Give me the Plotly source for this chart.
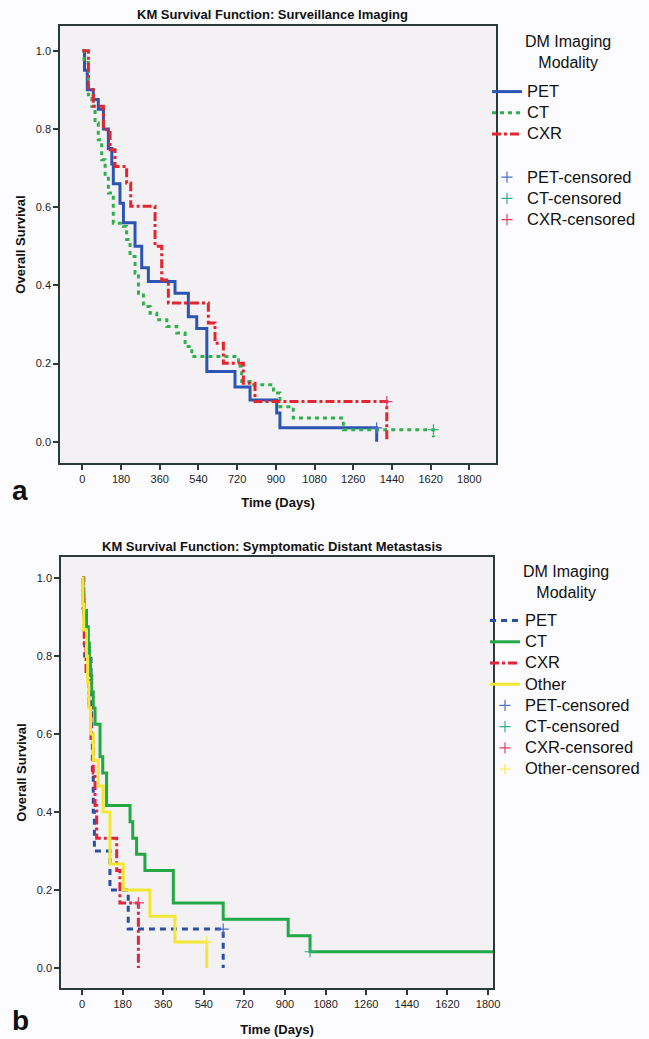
import plotly.graph_objects as go

# ---------------- data (panel a: Surveillance Imaging) ----------------
a_pet_t = [0, 10, 23, 51, 74, 98, 121, 137, 144, 175, 191, 245, 276, 307, 431, 493, 532, 579, 710, 780, 904, 919, 1369]
a_pet_s = [1.0, 0.95, 0.90, 0.875, 0.85, 0.80, 0.75, 0.71, 0.66, 0.61, 0.56, 0.50, 0.445, 0.41, 0.38, 0.32, 0.29, 0.18, 0.14, 0.107, 0.074, 0.036, 0.0]

a_ct_t = [0, 8, 28, 44, 59, 74, 90, 106, 121, 144, 191, 206, 222, 245, 261, 284, 315, 346, 393, 439, 478, 509, 726, 741, 780, 889, 919, 981, 1214, 1633]
a_ct_s = [1.0, 0.97, 0.887, 0.858, 0.815, 0.772, 0.721, 0.679, 0.636, 0.559, 0.551, 0.517, 0.474, 0.431, 0.380, 0.346, 0.329, 0.312, 0.295, 0.278, 0.244, 0.218, 0.193, 0.154, 0.146, 0.125, 0.090, 0.061, 0.031, 0.012]

a_cxr_t = [0, 28, 51, 98, 129, 152, 206, 225, 338, 369, 400, 586, 617, 656, 749, 803, 1416]
a_cxr_s = [1.0, 0.90, 0.858, 0.798, 0.747, 0.704, 0.662, 0.602, 0.50, 0.414, 0.355, 0.304, 0.252, 0.201, 0.150, 0.103, 0.0]

a_pet_cens_t, a_pet_cens_s = [1369], [0.036]
a_ct_cens_t, a_ct_cens_s = [1633], [0.031]
a_cxr_cens_t, a_cxr_cens_s = [1416], [0.103]

# ---------------- data (panel b: Symptomatic Distant Metastasis) ----------------
b_pet_t = [0, 8, 12, 40, 43, 46, 50, 55, 124, 205, 626]
b_pet_s = [1.0, 0.9, 0.8, 0.7, 0.6, 0.5, 0.4, 0.3, 0.2, 0.1, 0.0]

b_ct_t = [0, 5, 9, 20, 28, 33, 38, 43, 50, 58, 80, 92, 109, 213, 225, 242, 279, 405, 626, 914, 1011, 1830]
b_ct_s = [1.0, 0.958, 0.917, 0.875, 0.833, 0.792, 0.75, 0.708, 0.667, 0.625, 0.542, 0.5, 0.417, 0.375, 0.333, 0.292, 0.25, 0.167, 0.125, 0.083, 0.042, 0.042]

b_cxr_t = [0, 5, 10, 18, 30, 40, 50, 58, 65, 154, 168, 250]
b_cxr_s = [1.0, 0.917, 0.833, 0.75, 0.667, 0.583, 0.5, 0.417, 0.333, 0.25, 0.167, 0.0]

b_oth_t = [0, 4, 8, 20, 25, 30, 38, 50, 72, 94, 124, 183, 301, 412, 553]
b_oth_s = [1.0, 0.933, 0.867, 0.8, 0.733, 0.667, 0.6, 0.533, 0.467, 0.4, 0.267, 0.2, 0.133, 0.067, 0.0]

b_pet_cens_t, b_pet_cens_s = [626], [0.1]
b_ct_cens_t, b_ct_cens_s = [1011], [0.042]
b_cxr_cens_t, b_cxr_cens_s = [250], [0.167]
b_oth_cens_t, b_oth_cens_s = [553], [0.067]

x_ticks = [0, 180, 360, 540, 720, 900, 1080, 1260, 1440, 1620, 1800]
y_ticks = [0.0, 0.2, 0.4, 0.6, 0.8, 1.0]

W, H = 649, 1039
FONT = "Liberation Sans, Arial, sans-serif"
NARROW = "Liberation Sans Narrow, Arial Narrow, Liberation Sans, sans-serif"

fig = go.Figure()

def legname(s):
    return '<span style="font-size:16.5px">' + s + '</span>'

def line(t, s, name, color, dash, xa, ya, legend, group, width=3):
    fig.add_trace(go.Scatter(x=t, y=s, mode="lines", name=legname(name),
                             line=dict(color=color, width=width, dash=dash, shape="hv"),
                             xaxis=xa, yaxis=ya, legend=legend, legendgroup=group))

def cens(t, s, name, color, xa, ya, legend, group):
    fig.add_trace(go.Scatter(x=t, y=s, mode="markers", name=legname(name),
                             marker=dict(symbol="cross-thin-open", size=8, line=dict(color=color, width=1.2), color=color),
                             xaxis=xa, yaxis=ya, legend=legend, legendgroup=group))

# panel a
line(a_pet_t, a_pet_s, "PET", "#2c55b3", "solid", "x", "y", "legend", "g1")
line(a_ct_t, a_ct_s, "CT", "#2fb04c", "4px,4px", "x", "y", "legend", "g1")
line(a_cxr_t, a_cxr_s, "CXR", "#e3262e", "dashdot", "x", "y", "legend", "g1")
cens(a_pet_cens_t, a_pet_cens_s, "PET-censored", "#4a6fc8", "x", "y", "legend", "g2")
cens(a_ct_cens_t, a_ct_cens_s, "CT-censored", "#35b08a", "x", "y", "legend", "g2")
cens(a_cxr_cens_t, a_cxr_cens_s, "CXR-censored", "#ea3d64", "x", "y", "legend", "g2")

# panel b
line(b_pet_t, b_pet_s, "PET", "#2b4ea6", "6px,5px", "x2", "y2", "legend2", "h1")
line(b_ct_t, b_ct_s, "CT", "#22a845", "solid", "x2", "y2", "legend2", "h1")
line(b_cxr_t, b_cxr_s, "CXR", "#e0263c", "dashdot", "x2", "y2", "legend2", "h1")
line(b_oth_t, b_oth_s, "Other", "#f2e733", "solid", "x2", "y2", "legend2", "h1")
cens(b_pet_cens_t, b_pet_cens_s, "PET-censored", "#4a6fc8", "x2", "y2", "legend2", "h1")
cens(b_ct_cens_t, b_ct_cens_s, "CT-censored", "#35b08a", "x2", "y2", "legend2", "h1")
cens(b_cxr_cens_t, b_cxr_cens_s, "CXR-censored", "#ea3d64", "x2", "y2", "legend2", "h1")
cens(b_oth_cens_t, b_oth_cens_s, "Other-censored", "#f5ea52", "x2", "y2", "legend2", "h1")

axis_common = dict(showgrid=False, zeroline=False, showline=True, mirror=True, linecolor="#2b3b3b", linewidth=1.5,
                   ticks="outside", ticklen=5, tickwidth=1.5, tickcolor="#2b3b3b", automargin=False,
                   tickfont=dict(family=NARROW, size=11, color="#222"))

def px2dom_x(a, b):
    return [a / W, b / W]

def px2dom_y(top, bottom):
    return [1 - bottom / H, 1 - top / H]

fig.update_layout(
    width=W, height=H, margin=dict(l=0, r=0, t=0, b=0, pad=0, autoexpand=False),
    paper_bgcolor="#fcfcfe", plot_bgcolor="#f3f1f4",
    font=dict(family=FONT, color="#111"),
    xaxis=dict(domain=px2dom_x(60, 496), range=[-104, 1924], tickvals=x_ticks, anchor="y",
               title=dict(text="<b>Time (Days)</b>", font=dict(size=13, family=FONT), standoff=14), **axis_common),
    yaxis=dict(domain=px2dom_y(26, 463), range=[-0.054, 1.063], tickvals=y_ticks, tickformat=".1f", anchor="x",
               title=dict(text="<b>Overall Survival</b>", font=dict(size=13, family=FONT), standoff=7), **axis_common),
    xaxis2=dict(domain=px2dom_x(61, 493), range=[-93, 1822], tickvals=x_ticks, anchor="y2",
                title=dict(text="<b>Time (Days)</b>", font=dict(size=13, family=FONT), standoff=16), **axis_common),
    yaxis2=dict(domain=px2dom_y(557, 988), range=[-0.051, 1.054], tickvals=y_ticks, tickformat=".1f", anchor="x2",
                title=dict(text="<b>Overall Survival</b>", font=dict(size=13, family=FONT), standoff=7), **axis_common),
    legend=dict(x=487 / W, y=1 - 76 / H, xanchor="left", yanchor="top", bgcolor="rgba(0,0,0,0)",
                font=dict(size=14, family=FONT, color="#111"), tracegroupgap=22, itemwidth=30),
    legend2=dict(x=485 / W, y=1 - 605 / H, xanchor="left", yanchor="top", bgcolor="rgba(0,0,0,0)",
                 font=dict(size=14, family=FONT, color="#111"), tracegroupgap=0, itemwidth=30),
    showlegend=True,
)

annos = [
    dict(text="<b>KM Survival Function: Surveillance Imaging</b>", x=272, y=15, size=13),
    dict(text="<b>KM Survival Function: Symptomatic Distant Metastasis</b>", x=272, y=546, size=13),
    dict(text="<b>a</b>", x=20, y=490, size=28),
    dict(text="<b>b</b>", x=20, y=1020, size=28),
    dict(text="DM Imaging<br>Modality", x=568, y=52, size=16),
    dict(text="DM Imaging<br>Modality", x=566, y=582, size=16),
]
for a in annos:
    fig.add_annotation(xref="paper", yref="paper", showarrow=False, xanchor="center", yanchor="middle", align="center",
                       font=dict(family=FONT, color="#111", size=a["size"]), text=a["text"],
                       x=a["x"] / W, y=1 - a["y"] / H)

fig.write_html("out.html", config={"displayModeBar": False},
               post_script="document.body.style.margin='0px';")
